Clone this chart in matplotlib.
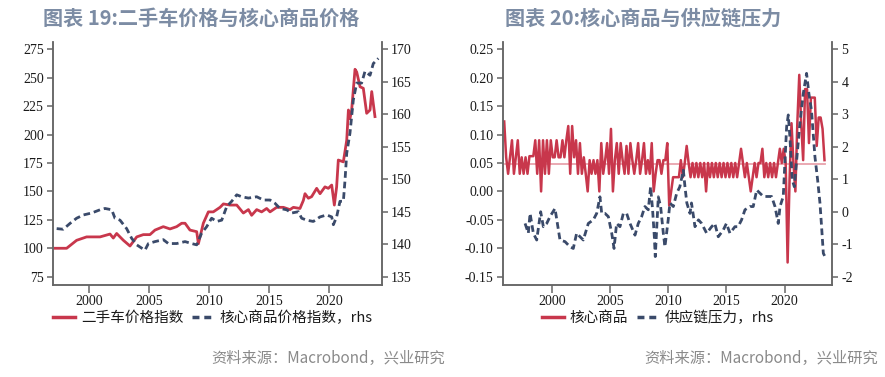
import matplotlib.pyplot as plt
from matplotlib.lines import Line2D
import numpy as np

plt.rcParams['axes.unicode_minus'] = False

CJK = ['Noto Sans CJK SC', 'DejaVu Sans']
SERIF = 'Liberation Serif'
RED = '#C8374C'
PINK = '#E8A3AC'
NAVY = '#3A4A6A'
TITLE_COLOR = '#7C8CA4'
SPINE_COLOR = '#666666'

# ---- chart 19: used car prices vs core goods (rhs) ----
used_car_years = [1997.17, 1998.14, 1998.97, 1999.80, 2000.92, 2001.75, 2002.02, 2002.30,
                  2002.86, 2003.41, 2003.97, 2004.52, 2005.07, 2005.49, 2006.18, 2006.74,
                  2007.29, 2007.71, 2007.99, 2008.40, 2008.96, 2009.10, 2009.51, 2009.93,
                  2010.34, 2010.90, 2011.18, 2011.73, 2012.29, 2012.84, 2013.26, 2013.53,
                  2013.95, 2014.36, 2014.78, 2015.06, 2015.61, 2016.17, 2016.72, 2017.00,
                  2017.55, 2017.83, 2017.97, 2018.25, 2018.52, 2018.94, 2019.22, 2019.63,
                  2019.91, 2020.19, 2020.41, 2020.60, 2020.74, 2021.16, 2021.44, 2021.58,
                  2021.71, 2021.85, 2022.13, 2022.27, 2022.55, 2022.82, 2023.10, 2023.38,
                  2023.52, 2023.79]
used_car_index = [100, 100, 107, 110, 110, 112.5, 109, 113,
                  107, 102, 110, 112, 112, 116, 119, 117,
                  119, 122, 122, 116, 114.6, 104, 122, 132,
                  132, 136, 139, 138, 138, 131, 134, 129,
                  134, 132, 135, 132, 136, 136, 134, 136,
                  135, 142, 148, 144, 145.4, 152.7, 148, 154,
                  152.7, 155.6, 138, 154, 177.6, 176, 195, 221.6,
                  214, 221.6, 257.4, 255, 242, 240.7, 218.7, 221.6,
                  237.8, 215.8]

core_years = [1997.31, 1997.86, 1998.42, 1998.97, 1999.53, 2000.22, 2000.92, 2001.33,
              2001.89, 2002.16, 2002.58, 2003.13, 2003.55, 2003.97, 2004.38, 2004.66,
              2004.94, 2005.49, 2006.18, 2006.60, 2007.29, 2007.99, 2008.54, 2008.96,
              2009.37, 2009.79, 2010.20, 2010.62, 2011.04, 2011.46, 2011.87, 2012.29,
              2012.71, 2013.26, 2013.95, 2014.51, 2015.06, 2015.47, 2015.89, 2016.44,
              2016.86, 2017.42, 2017.69, 2018.11, 2018.66, 2019.22, 2019.77, 2020.19,
              2020.33, 2020.60, 2020.88, 2021.16, 2021.30, 2021.44, 2021.71, 2021.99,
              2022.27, 2022.68, 2022.96, 2023.38, 2023.65, 2024.07]
core_index = [142.4, 142.3, 143.2, 144.0, 144.5, 144.8, 145.3, 145.5,
              145.3, 144.0, 143.7, 142.4, 140.9, 139.9, 139.4, 139.1,
              140.1, 140.4, 140.7, 140.1, 140.1, 140.4, 140.1, 139.9,
              141.7, 142.7, 144.0, 143.5, 143.7, 145.8, 146.6, 147.6,
              147.3, 147.1, 147.3, 146.8, 146.8, 146.3, 145.5, 145.3,
              144.8, 145.0, 144.0, 143.7, 143.5, 144.2, 144.5, 144.2,
              143.0, 144.2, 146.6, 146.6, 149.9, 154.0, 157.1, 162.2,
              164.8, 164.8, 166.6, 166.0, 167.8, 168.6]

# ---- chart 20: core goods m/m vs supply chain pressure (rhs) ----
core_mm_start = 1995.92          # bi-monthly observations from here
core_mm = [0.123,
           0.06, 0.031, 0.06, 0.09, 0.031, 0.06,        # 1996
           0.09, 0.031, 0.06, 0.031, 0.06, 0.031,       # 1997
           0.062, 0.062, 0.062, 0.09, 0.031, 0.09,      # 1998
           0.0, 0.09, 0.031, 0.09, 0.031, 0.09,         # 1999
           0.06, 0.06, 0.09, 0.06, 0.06, 0.09,          # 2000
           0.06, 0.09, 0.115, 0.031, 0.115, 0.06,       # 2001
           0.09, 0.031, 0.085, 0.031, 0.06, 0.031,      # 2002
           0.0, 0.055, 0.031, 0.055, 0.031, 0.055,      # 2003
           0.0, 0.085, 0.031, 0.055, 0.085, 0.031,      # 2004
           0.11, 0.0, 0.055, 0.085, 0.031, 0.085,       # 2005
           0.055, 0.031, 0.08, 0.031, 0.085, 0.055,     # 2006
           0.031, 0.055, 0.085, 0.031, 0.055, 0.085,    # 2007
           0.031, 0.055, 0.031, 0.085, 0.0, 0.031,      # 2008
           0.055, 0.055, 0.031, 0.055, 0.055, 0.085,    # 2009
           -0.025, 0.0, 0.025, 0.025, 0.025, 0.025,     # 2010
           0.055, 0.025, 0.05, 0.08, 0.05, 0.025,       # 2011
           0.05, 0.025, 0.05, 0.025, 0.05, 0.025,       # 2012
           0.05, 0.0, 0.05, 0.025, 0.05, 0.025,         # 2013
           0.05, 0.025, 0.05, 0.025, 0.05, 0.025,       # 2014
           0.05, 0.025, 0.05, 0.025, 0.05, 0.025,       # 2015
           0.05, 0.075, 0.05, 0.025, 0.05, 0.025,       # 2016
           0.0, 0.025, 0.05, 0.025, 0.05, 0.05,         # 2017
           0.075, 0.025, 0.05, 0.025, 0.05, 0.025,      # 2018
           0.05, 0.025, 0.05, 0.075, 0.05, 0.075,       # 2019
           0.05, -0.125, 0.02, 0.12, 0.05, 0.0,         # 2020
           0.12, 0.205, 0.12, 0.055, 0.18, 0.18,        # 2021
           0.085, 0.165, 0.165, 0.165, 0.08, 0.13,      # 2022
           0.13, 0.11, 0.055]                           # 2023
core_mm_mean = 0.048
core_mm_mean_span = [1996.0, 2023.46]

gscpi_years = [1997.71, 1997.99, 1998.14, 1998.42, 1998.71, 1999.05, 1999.28, 1999.57,
               1999.85, 2000.28, 2000.71, 2001.14, 2001.57, 2001.85, 2002.14, 2002.43,
               2002.71, 2003.14, 2003.57, 2003.86, 2004.14, 2004.29, 2004.57, 2004.86,
               2005.15, 2005.35, 2005.57, 2005.86, 2006.15, 2006.43, 2006.72, 2007.15,
               2007.43, 2007.72, 2008.00, 2008.29, 2008.49, 2008.66, 2008.81, 2008.89,
               2009.15, 2009.35, 2009.58, 2009.72, 2010.00, 2010.15, 2010.44, 2010.73,
               2011.00, 2011.30, 2011.44, 2011.60, 2011.87, 2012.00, 2012.30, 2012.60,
               2012.87, 2013.30, 2013.73, 2014.00, 2014.30, 2014.73, 2015.00, 2015.30,
               2015.73, 2016.00, 2016.30, 2016.59, 2017.02, 2017.30, 2017.60, 2017.88,
               2018.17, 2018.60, 2018.88, 2019.17, 2019.45, 2019.60, 2019.88, 2020.17,
               2020.31, 2020.45, 2020.65, 2020.83, 2021.03, 2021.31, 2021.60, 2021.88,
               2022.08, 2022.30, 2022.60, 2022.83, 2023.03, 2023.17, 2023.32, 2023.46]
gscpi = [-0.36, -0.66, -0.05, -0.66, -0.87, 0.0, -0.46, -0.36,
         -0.15, 0.10, -0.87, -0.92, -1.08, -1.13, -0.66, -0.77,
         -0.87, -0.36, -0.25, -0.05, 0.46, -0.05, -0.05, -0.15,
         -0.66, -1.13, -0.36, -0.46, -0.05, -0.05, -0.36, -0.72,
         -0.36, -0.15, 0.16, 0.06, 0.77, 0.06, -0.77, -1.38,
         0.46, 0.16, -0.66, -1.08, -0.25, 0.27, 0.16, 0.57,
         0.77, 1.28, 0.77, 0.27, -0.05, 0.27, -0.46, -0.25,
         -0.36, -0.66, -0.46, -0.36, -0.77, -0.56, -0.36, -0.66,
         -0.46, -0.46, -0.25, 0.06, 0.16, 0.16, 0.67, 0.57,
         0.47, 0.47, 0.47, 0.16, -0.36, 0.16, 0.47, 2.62,
         2.98, 2.30, 0.98, 0.77, 1.59, 2.72, 3.64, 4.26,
         3.64, 3.13, 1.69, 0.98, 0.27, -0.46, -1.28, -1.38]

x_ticks = [2000, 2005, 2010, 2015, 2020]


def style_axes(ax, ax2):
    for a in (ax, ax2):
        a.spines['top'].set_visible(False)
        for side in ('left', 'right', 'bottom'):
            a.spines[side].set_color(SPINE_COLOR)
            a.spines[side].set_linewidth(1.1)
        a.tick_params(colors=SPINE_COLOR, labelcolor='#1a1a1a', labelsize=10,
                      width=1.1, length=4.5, pad=2)
        for lab in a.get_xticklabels() + a.get_yticklabels():
            lab.set_fontfamily(SERIF)
    ax.set_xticks(x_ticks)
    ax.set_xticklabels([str(t) for t in x_ticks], fontfamily=SERIF, fontsize=10)
    ax.tick_params(axis='x', length=5.5)


fig = plt.figure(figsize=(8.85, 3.77), dpi=100)
fig.patch.set_facecolor('white')

# ---------------- left chart ----------------
ax1 = fig.add_axes([0.05955, 0.24403, 0.37175, 0.64456])
ax1b = ax1.twinx()
ax1.plot(used_car_years, used_car_index, color=RED, lw=2.0, solid_joinstyle='round')
ax1b.plot(core_years, core_index, color=NAVY, lw=2.0, dashes=(2.4, 1.4))
ax1.set_xlim(1996.98, 2024.35)
ax1.set_ylim(67.7, 281.4)
ax1b.set_ylim(133.72, 171.12)
ax1.set_yticks([75, 100, 125, 150, 175, 200, 225, 250, 275])
ax1b.set_yticks([135, 140, 145, 150, 155, 160, 165, 170])
style_axes(ax1, ax1b)

# ---------------- right chart ----------------
ax2 = fig.add_axes([0.56802, 0.24403, 0.37243, 0.64456])
ax2b = ax2.twinx()
mm_years = core_mm_start + np.arange(len(core_mm)) / 6
ax2.plot(core_mm_mean_span, [core_mm_mean, core_mm_mean], color=PINK, lw=1.3, zorder=1)
ax2.plot(mm_years, core_mm, color=RED, lw=1.8, zorder=2)
ax2b.plot(gscpi_years, gscpi, color=NAVY, lw=2.0, dashes=(2.4, 1.4))
ax2.set_xlim(1995.79, 2024.09)
ax2.set_ylim(-0.1646, 0.2628)
ax2b.set_ylim(-2.255, 5.225)
ax2.set_yticks([-0.15, -0.10, -0.05, 0.0, 0.05, 0.10, 0.15, 0.20, 0.25])
ax2.set_yticklabels([f'{v:.2f}' for v in ax2.get_yticks()])
ax2b.set_yticks([-2, -1, 0, 1, 2, 3, 4, 5])
style_axes(ax2, ax2b)

# ---------------- titles ----------------
fig.text(43 / 885, 1 - 18 / 377, '图表 19:二手车价格与核心商品价格', family=CJK,
         fontsize=14.5, fontweight='bold', color=TITLE_COLOR, ha='left', va='center')
fig.text(505 / 885, 1 - 18 / 377, '图表 20:核心商品与供应链压力', family=CJK,
         fontsize=14.5, fontweight='bold', color=TITLE_COLOR, ha='left', va='center')

# ---------------- legends ----------------
def add_legend(x0, labels):
    handles = [Line2D([], [], color=RED, lw=2.5),
               Line2D([], [], color=NAVY, lw=2.5, dashes=(2.0, 1.4))]
    leg = fig.legend(handles, labels, loc='center left',
                     bbox_to_anchor=(x0, 1 - 318 / 377), ncol=2, frameon=False,
                     prop={'family': CJK, 'size': 10.5}, handlelength=1.5,
                     handletextpad=0.4, columnspacing=0.6, borderaxespad=0,
                     borderpad=0)
    for t in leg.get_texts():
        t.set_color('#1a1a1a')


add_legend(53 / 885, ['二手车价格指数', '核心商品价格指数，rhs'])
add_legend(542 / 885, ['核心商品', '供应链压力，rhs'])

# ---------------- sources ----------------
for x_right in (445 / 885, 878 / 885):
    fig.text(x_right, 1 - 358 / 377, '资料来源：Macrobond，兴业研究', family=CJK,
             fontsize=11, color='#8a8a8a', ha='right', va='center')

fig.savefig('out.png', dpi=100, facecolor='white')
